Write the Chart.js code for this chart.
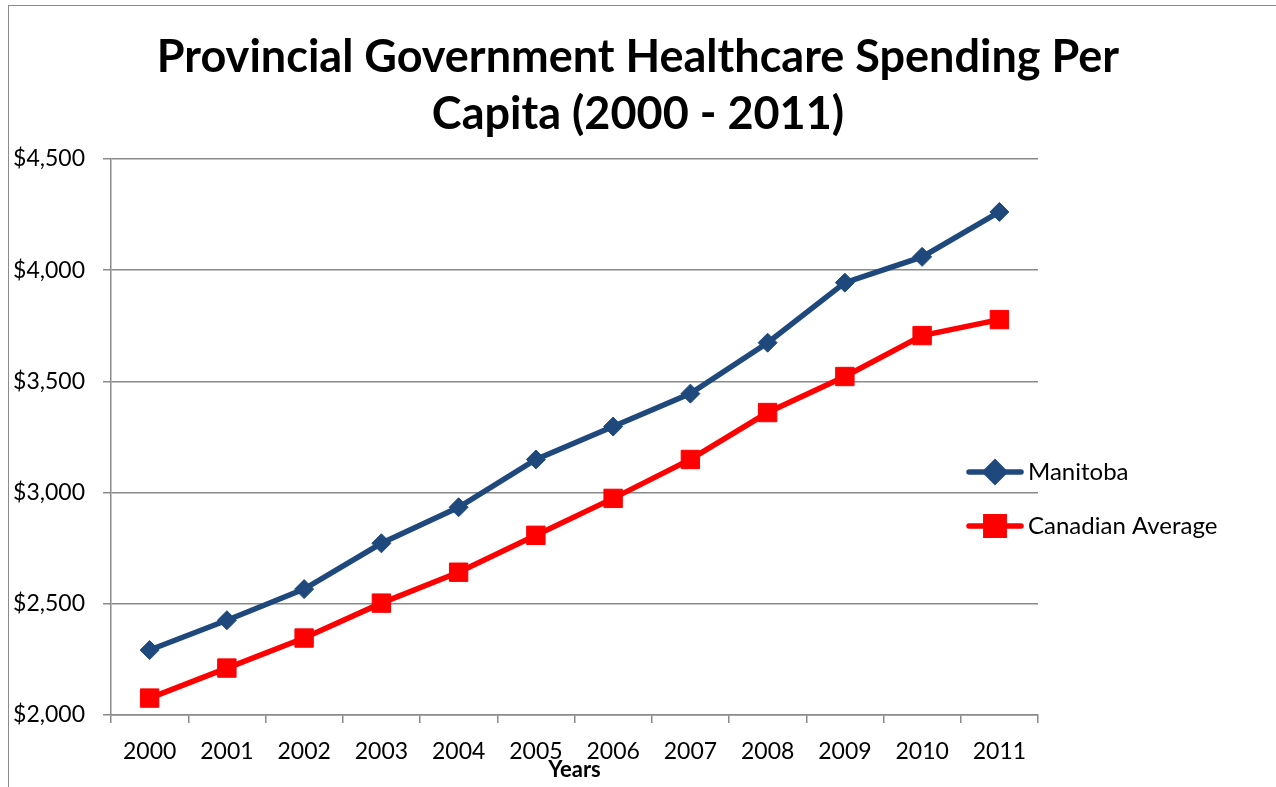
<!DOCTYPE html>
<html lang="en">
<head>
  <meta charset="UTF-8">
  <title>Provincial Government Healthcare Spending Per Capita</title>
  <script src="https://cdn.jsdelivr.net/npm/chart.js"></script>
  <style>
    body { margin: 0; background: #fff; }
    #wrap { position: relative; width: 1276px; height: 787px; overflow: hidden; }
    /* outer chart frame, only left and top edges are visible */
    #frame {
      position: absolute; left: 8px; top: 5px; width: 1400px; height: 900px;
      border-left: 1px solid #8a8a8a; border-top: 1px solid #8a8a8a;
      pointer-events: none;
    }
  </style>
</head>
<body>
  <div id="wrap">
    <canvas id="spendChart" width="1276" height="787"></canvas>
    <div id="frame"></div>
  </div>

  <script>
    // data
    const years = ['2000', '2001', '2002', '2003', '2004', '2005', '2006', '2007', '2008', '2009', '2010', '2011'];
    const manitoba = [2292, 2426, 2566, 2772, 2934, 3149, 3297, 3445, 3674, 3944, 4060, 4262];
    const canadianAvg = [2076, 2211, 2346, 2503, 2642, 2808, 2974, 3149, 3360, 3522, 3706, 3778];
    const titleLines = ['Provincial Government Healthcare Spending Per', 'Capita (2000 - 2011)'];

    const FONT = 'Lato, "Open Sans", sans-serif';
    const LABEL_SIZE = 23;

    // fit title font so the first line is about as wide as in the original
    const mctx = document.createElement('canvas').getContext('2d');
    mctx.font = 'bold 42px ' + FONT;
    const titleSize = Math.round(42 * 955 / mctx.measureText(titleLines[0]).width);

    // legend drawn over the plot area like in the spreadsheet chart
    const overlayLegend = {
      id: 'overlayLegend',
      afterDraw(chart) {
        const ctx = chart.ctx;
        const rows = [472, 526];
        ctx.save();
        chart.data.datasets.forEach((ds, i) => {
          const y = rows[i];
          ctx.strokeStyle = ds.borderColor;
          ctx.lineWidth = ds.borderWidth;
          ctx.lineCap = 'round';
          ctx.beginPath();
          ctx.moveTo(969, y);
          ctx.lineTo(1021, y);
          ctx.stroke();
          Chart.helpers.drawPoint(ctx, {
            pointStyle: ds.pointStyle,
            radius: ds.pointRadius,
            borderWidth: 1
          }, 995, y);
          ctx.fillStyle = ds.borderColor;
          ctx.fill();
          ctx.fillStyle = '#000';
          ctx.font = (LABEL_SIZE + 1) + 'px ' + FONT;
          ctx.textBaseline = 'middle';
          ctx.fillText(ds.label, 1028, y);
        });
        ctx.restore();
      }
    };

    new Chart(document.getElementById('spendChart'), {
      type: 'line',
      data: {
        labels: years,
        datasets: [{
          label: 'Manitoba',
          data: manitoba,
          borderColor: '#1F497D',
          backgroundColor: '#1F497D',
          borderWidth: 5.5,
          pointStyle: 'rectRot',
          pointRadius: 9.5,
          pointBorderWidth: 1,
          tension: 0
        }, {
          label: 'Canadian Average',
          data: canadianAvg,
          borderColor: '#FF0000',
          backgroundColor: '#FF0000',
          borderWidth: 5.5,
          pointStyle: 'rect',
          pointRadius: 13,
          pointBorderWidth: 1,
          tension: 0
        }]
      },
      options: {
        responsive: false,
        animation: false,
        layout: { padding: { left: 0, right: 0, top: 0, bottom: 4 } },
        scales: {
          x: {
            offset: true,
            afterFit: s => { s.height = 68; },
            grid: {
              offset: true,
              drawOnChartArea: false,
              tickLength: 8,
              color: '#8a8a8a',
              lineWidth: 1.5
            },
            border: { color: '#8a8a8a', width: 1.5 },
            ticks: { color: '#000', padding: 15, font: { family: FONT, size: LABEL_SIZE } },
            title: {
              display: true,
              text: 'Years',
              color: '#000',
              padding: { top: 0, bottom: 0 },
              font: { family: FONT, size: LABEL_SIZE - 1, weight: 'bold' }
            }
          },
          y: {
            min: 2000,
            max: 4500,
            afterFit: s => { s.width = 111; },
            grid: { color: '#8a8a8a', lineWidth: 1.5, tickLength: 8 },
            border: { color: '#8a8a8a', width: 1.5 },
            ticks: {
              stepSize: 500,
              padding: 18,
              color: '#000',
              font: { family: FONT, size: LABEL_SIZE },
              callback: v => '$' + v.toLocaleString('en-US')
            }
          },
          // empty right axis that reserves the space where the legend sits
          yR: {
            position: 'right',
            afterFit: s => { s.width = 238; },
            grid: { display: false },
            border: { display: false },
            ticks: { display: false }
          }
        },
        plugins: {
          legend: { display: false },
          tooltip: { enabled: false },
          title: {
            display: true,
            text: titleLines,
            color: '#000',
            padding: { top: 29, bottom: 16 },
            font: { family: FONT, size: titleSize, weight: 'bold', lineHeight: 57 / titleSize }
          }
        }
      },
      plugins: [overlayLegend]
    });
  </script>
</body>
</html>
